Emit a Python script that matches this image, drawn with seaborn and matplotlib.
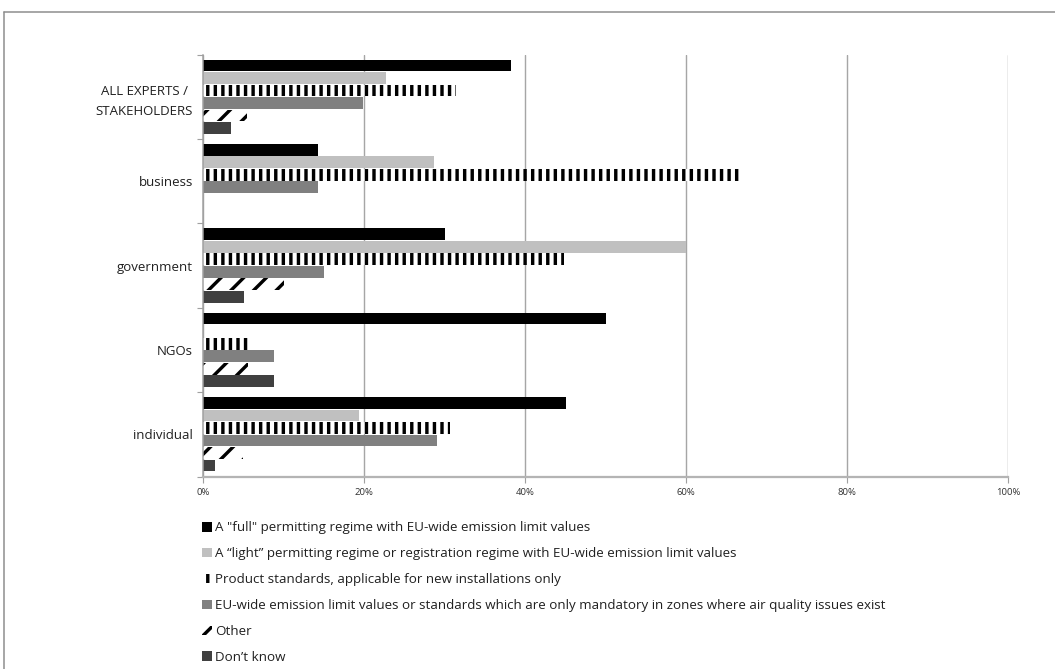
import matplotlib
matplotlib.use("Agg")
import matplotlib.pyplot as plt
from matplotlib.lines import Line2D
from matplotlib.ticker import FixedLocator, PercentFormatter
import pandas as pd
import seaborn as sns

# Respondent groups (top to bottom)
groups = ["ALL EXPERTS /\nSTAKEHOLDERS", "business", "government", "NGOs", "individual"]

# Options offered to respondents
options = [
    'A "full" permitting regime with EU-wide emission limit values',
    "A \u201clight\u201d permitting regime or registration regime with EU-wide emission limit values",
    "Product standards, applicable for new installations only",
    "EU-wide emission limit values or standards which are only mandatory in zones where air quality issues exist",
    "Other",
    "Don\u2019t know",
]

# Share of respondents per option (%)
full_regime = [38.2, 14.3, 30.0, 50.0, 45.1]
light_regime = [22.7, 28.6, 60.0, 0.0, 19.4]
product_standards = [31.4, 66.7, 44.8, 5.6, 30.6]
zone_limits = [19.9, 14.3, 15.0, 8.8, 29.0]
other = [5.4, 0.0, 10.0, 5.6, 4.9]
dont_know = [3.5, 0.0, 5.0, 8.8, 1.5]

x_ticks = [0, 20, 40, 60, 80, 100]

series = [full_regime, light_regime, product_standards, zone_limits, other, dont_know]
df = pd.DataFrame(
    [(g, opt, vals[i]) for opt, vals in zip(options, series) for i, g in enumerate(groups)],
    columns=["group", "option", "share"],
)

face = ["#000000", "#c0c0c0", "#ffffff", "#808080", "#ffffff", "#404040"]
hatches = [None, None, "|||", None, "//", None]

DPI = 136
W, H = 1055, 669
sns.set_theme(style="white")
plt.rcParams["font.family"] = ["Open Sans", "DejaVu Sans"]
plt.rcParams["hatch.linewidth"] = 1.8

fig = plt.figure(figsize=(W / DPI, H / DPI), dpi=DPI)
ax = fig.add_axes([203.3 / W, 1 - 476.5 / H, (1008.3 - 203.3) / W, (476.5 - 54.5) / H])

sns.barplot(
    data=df, y="group", x="share", hue="option", order=groups, hue_order=options,
    palette=face, orient="h", width=0.89, gap=0.06, dodge=True, legend=False,
    errorbar=None, ax=ax,
)

for cont, fc, ht in zip(ax.containers, face, hatches):
    for p in cont.patches:
        p.set_facecolor(fc)
        p.set_linewidth(0)
        if ht:
            p.set_hatch(ht)
            p.set_edgecolor("#000000")

ax.set_xlim(0, 100)
ax.set_xticks(x_ticks)
ax.xaxis.set_major_formatter(PercentFormatter(decimals=0))
ax.set_xlabel("")
ax.set_ylabel("")
ax.grid(axis="x", color="#a6a6a6", linewidth=0.75)
ax.set_axisbelow(True)

for side in ("top", "right"):
    ax.spines[side].set_visible(False)
ax.spines["left"].set_color("#a0a0a0")
ax.spines["left"].set_linewidth(0.8)
ax.spines["bottom"].set_color("#b4b4b4")
ax.spines["bottom"].set_linewidth(1.2)

ax.tick_params(axis="x", bottom=True, length=3, width=0.6, color="#a0a0a0",
               labelsize=5.0, pad=3, labelcolor="#303030")
ax.tick_params(axis="y", which="major", left=False, length=0, pad=5.5,
               labelsize=7.0, labelcolor="#202020")
ax.yaxis.set_minor_locator(FixedLocator([i - 0.5 for i in range(len(groups) + 1)]))
ax.tick_params(axis="y", which="minor", left=True, length=3, width=0.6, color="#a0a0a0")
for lab in ax.get_yticklabels():
    lab.set_multialignment("center")
    lab.set_linespacing(1.65)

handles = [cont.patches[0] for cont in ax.containers]
fig.legend(
    handles, options, loc="upper left", bbox_to_anchor=(202.3 / W, 1 - 521.5 / H),
    frameon=False, fontsize=7.1, borderpad=0, borderaxespad=0,
    handlelength=0.72, handleheight=0.72, handletextpad=0.25, labelspacing=0.96,
    labelcolor="#202020",
)

# outer chart border (top and left edges)
fig.add_artist(Line2D([3.5 / W, 1.01], [1 - 11.5 / H, 1 - 11.5 / H],
                      transform=fig.transFigure, color="#8c8c8c", linewidth=0.8))
fig.add_artist(Line2D([3.5 / W, 3.5 / W], [1 - 11.5 / H, -0.01],
                      transform=fig.transFigure, color="#8c8c8c", linewidth=0.8))

fig.savefig("out.png", dpi=DPI)
